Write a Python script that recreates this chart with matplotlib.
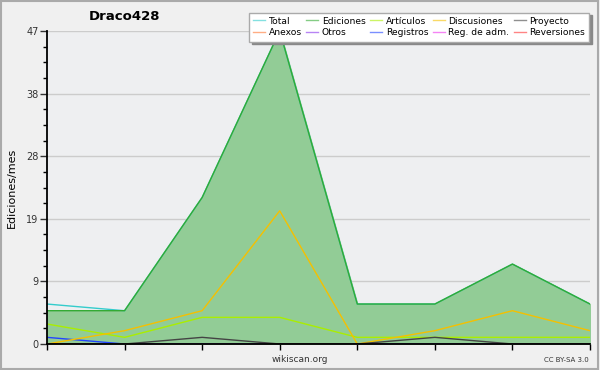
import numpy as np
import matplotlib
matplotlib.use("Agg")
import matplotlib.pyplot as plt

# monthly values (8 months)
total = [6, 5, 22, 47, 6, 6, 12, 6]
ediciones = [5, 5, 22, 47, 6, 6, 12, 6]
articulos = [3, 1, 4, 4, 1, 1, 1, 1]
discusiones = [0, 2, 5, 20, 0, 2, 5, 2]
proyecto = [0, 0, 1, 0, 0, 1, 0, 0]
anexos = [0, 0, 0, 0, 0, 0, 0, 0]
otros = [0, 0, 0, 0, 0, 0, 0, 0]
registros = [1, 0, 0, 0, 0, 0, 0, 0]
reg_adm = [0, 0, 0, 0, 0, 0, 0, 0]
reversiones = [0, 0, 0, 0, 0, 0, 0, 0]

ymax = 47
ytick_labels = ["0", "9", "19", "28", "38", "47"]

x = np.arange(len(total))

plt.rcParams['font.family'] = ['DejaVu Sans']

fig = plt.figure(figsize=(6, 3.7), dpi=100, facecolor='#f0f0f0')
fig.patches.append(plt.Rectangle((0.002, 0.003), 0.995, 0.994, transform=fig.transFigure,
                                 fill=False, edgecolor='#aaaaaa', lw=1.5))
ax = fig.add_axes([47/600, 26/370, 543/600, 313/370])
ax.set_facecolor('#eeeff1')

series = [
    ("Total", total, '#33cccc'),
    ("Anexos", anexos, '#ff7733'),
    ("Ediciones", ediciones, '#33aa33'),
    ("Otros", otros, '#8833ee'),
    ("Artículos", articulos, '#aaee00'),
    ("Registros", registros, '#2244ff'),
    ("Discusiones", discusiones, '#f5c000'),
    ("Reg. de adm.", reg_adm, '#ee33ee'),
    ("Proyecto", proyecto, '#444444'),
    ("Reversiones", reversiones, '#ff3333'),
]

ax.fill_between(x, 0, ediciones, color='#92cc96', zorder=1)
handles = []
for name, vals, col in series:
    ax.plot(x, vals, color=col, lw=1, zorder=2)
    h, = ax.plot([], [], color=col, lw=1, alpha=0.6, label=name)
    handles.append(h)

ax.set_xlim(0, len(total) - 1)
ax.set_ylim(0, ymax)
ax.set_yticks(np.linspace(0, ymax, 6))
ax.set_yticklabels(ytick_labels)
ax.set_yticks(np.linspace(0, ymax, 21), minor=True)
ax.set_xticks(x)
ax.set_xticklabels([])
ax.tick_params(axis='y', labelsize=7, length=5, width=1, colors='#333333', pad=1)
ax.tick_params(axis='y', which='minor', length=3, width=1)
ax.tick_params(axis='x', length=4, width=1)
ax.grid(axis='y', color='#cccccc', lw=1, zorder=0)
ax.set_axisbelow(True)
for s in ['top', 'right']:
    ax.spines[s].set_visible(False)
for s in ['left', 'bottom']:
    ax.spines[s].set_linewidth(1.3)
    ax.spines[s].set_zorder(5)

ax.set_ylabel("Ediciones/mes", fontsize=8, labelpad=7)
fig.text(125/600, 1 - 17/370, "Draco428", fontsize=9.5, fontweight='bold', ha='center', va='center')
fig.text(300/600, 1 - 360/370, "wikiscan.org", fontsize=6.5, color='#333333', ha='center', va='center')
fig.text(589/600, 1 - 360/370, "CC BY-SA 3.0", fontsize=5, color='#333333', ha='right', va='center')

leg = fig.legend(handles=handles, ncol=5, loc='upper right', bbox_to_anchor=(594/600, 1 - 8/370),
                 fontsize=6.6, frameon=True, fancybox=False, shadow={'color': '#888888', 'alpha': 1},
                 handlelength=1.3, handletextpad=0.4, columnspacing=0.5, labelspacing=0.3,
                 borderpad=0.45, edgecolor='#aaaaaa')
leg.get_frame().set_linewidth(1)

fig.savefig("out.png", dpi=100, facecolor=fig.get_facecolor())
